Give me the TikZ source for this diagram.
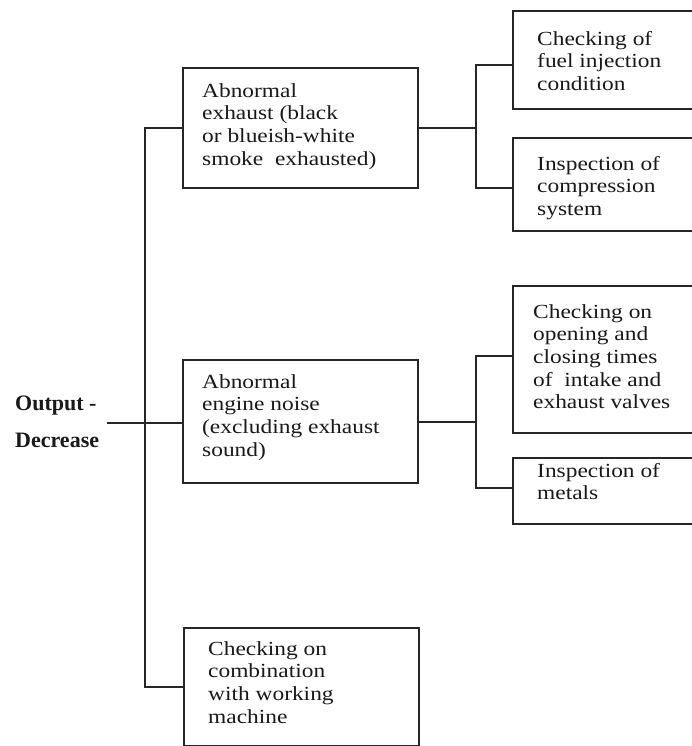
\documentclass[tikz,border=0pt]{standalone}
\usepackage{fontspec}
\setmainfont[FakeStretch=1.17]{Liberation Serif}
\newfontfamily\lblfont{Liberation Serif}
\begin{document}
\begin{tikzpicture}[x=1pt,y=-1pt,
  box/.style={draw=black!85, line width=1.9pt, rectangle, inner sep=0pt, anchor=north west},
  txt/.style={anchor=north west, inner sep=0pt, align=left, font=\fontsize{20}{22.7}\selectfont, text=black!90},
  lbl/.style={anchor=base west, inner sep=0pt, font=\lblfont\bfseries\fontsize{22}{26}\selectfont, text=black!90},
  wire/.style={draw=black!85, line width=1.9pt}]
\useasboundingbox (0,0) rectangle (692,746);
\clip (0,0) rectangle (692,746);
% boxes
\node[box, minimum width=235pt, minimum height=120pt] (A) at (182,67) {};
\node[box, minimum width=235pt, minimum height=123pt] (B) at (182,359) {};
\node[box, minimum width=235pt, minimum height=117.5pt] (C) at (183,627) {};
\node[box, minimum width=198pt, minimum height=98pt] (D) at (512,10) {};
\node[box, minimum width=198pt, minimum height=93pt] (E) at (512,137) {};
\node[box, minimum width=198pt, minimum height=147pt] (F) at (512,285) {};
\node[box, minimum width=198pt, minimum height=66pt] (G) at (512,457) {};
% texts
\node[txt] (tA) at (202,83) {Abnormal\\exhaust (black\\or blueish-white\\smoke\ \ exhausted)};
\node[txt] (tB) at (202,374) {Abnormal\\engine noise\\(excluding exhaust\\sound)};
\node[txt] (tC) at (208,641) {Checking on\\combination\\with working\\machine};
\node[txt] (tD) at (537,31) {Checking of\\fuel injection\\condition};
\node[txt] (tE) at (537,156) {Inspection of\\compression\\system};
\node[txt] (tF) at (533,304) {Checking on\\opening and\\closing times\\of\ \ intake and\\exhaust valves};
\node[txt] (tG) at (537,463) {Inspection of\\metals};
% labels
\node[lbl] (out1) at (15,410) {Output -};
\node[lbl] (out2) at (15,447) {Decrease};
% junction coordinates
\coordinate (o) at (107,423);
\coordinate (jB) at (476,422);
\coordinate (jD) at (476,65);
\coordinate (jE) at (476,188);
\coordinate (jF) at (476,356);
\coordinate (jG) at (476,488);
% connectors
\draw[wire] (o) -- (o -| B.west);
\draw[wire] (A.west) -- ++(-37,0) |- (C.west);
\draw[wire] (A.east) -- (A.east -| jD);
\draw[wire] (D.west |- jD) -- (jD) -- (jE) -- (E.west |- jE);
\draw[wire] (B.east |- jB) -- (jB);
\draw[wire] (F.west |- jF) -- (jF) -- (jG) -- (G.west |- jG);
\end{tikzpicture}
\end{document}
